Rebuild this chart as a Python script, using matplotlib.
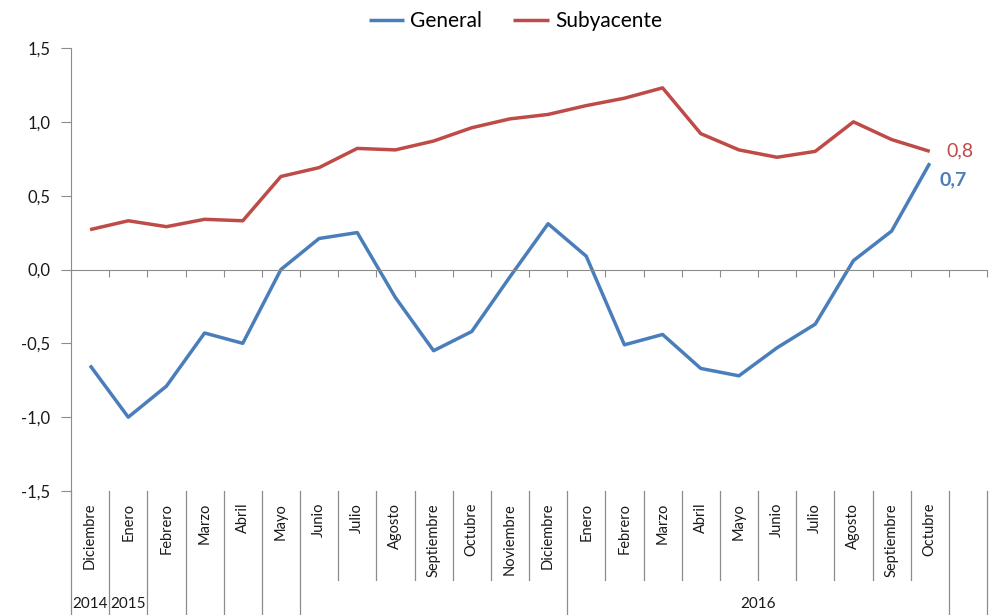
import matplotlib
matplotlib.use("Agg")
import matplotlib.pyplot as plt
from matplotlib.ticker import FuncFormatter, FixedLocator
from matplotlib.transforms import blended_transform_factory

BLUE = "#4A7EBB"
RED = "#BE4B48"
GRID = "#8C8C8C"
TEXT = "#1a1a1a"

plt.rcParams["font.family"] = ["Lato", "DejaVu Sans"]

months = ["Diciembre", "Enero", "Febrero", "Marzo", "Abril", "Mayo", "Junio",
          "Julio", "Agosto", "Septiembre", "Octubre", "Noviembre", "Diciembre",
          "Enero", "Febrero", "Marzo", "Abril", "Mayo", "Junio", "Julio",
          "Agosto", "Septiembre", "Octubre", ""]
years = [("2014", 0, 1), ("2015", 1, 2), ("2016", 13, 23)]
# category boundaries whose divider runs down through the year row
year_breaks = [0, 1, 2, 3, 4, 5, 6, 13, 23, 24]

general = [-0.65, -1.00, -0.79, -0.43, -0.50, 0.00, 0.21, 0.25, -0.19, -0.55,
           -0.42, -0.05, 0.31, 0.09, -0.51, -0.44, -0.67, -0.72, -0.53, -0.37,
           0.06, 0.26, 0.72]
subyacente = [0.27, 0.33, 0.29, 0.34, 0.33, 0.63, 0.69, 0.82, 0.81, 0.87,
              0.96, 1.02, 1.05, 1.11, 1.16, 1.23, 0.92, 0.81, 0.76, 0.80,
              1.00, 0.88, 0.80]

fig = plt.figure(figsize=(9.91, 6.15), dpi=100)
ax = fig.add_axes([71 / 991, 1 - 491 / 615, 916 / 991, 443 / 615])

x = [i + 0.5 for i in range(len(general))]
ax.plot(x, general, color=BLUE, linewidth=2.5, label="General",
        solid_capstyle="butt")
ax.plot(x, subyacente, color=RED, linewidth=2.5, label="Subyacente",
        solid_capstyle="butt")

ax.set_xlim(0, len(months))
ax.set_ylim(-1.5, 1.5)
ax.yaxis.set_major_locator(FixedLocator([-1.5, -1.0, -0.5, 0.0, 0.5, 1.0, 1.5]))
ax.yaxis.set_major_formatter(FuncFormatter(lambda v, p: f"{v:.1f}".replace(".", ",")))
ax.tick_params(axis="y", direction="out", length=7, color=GRID, labelsize=12,
               labelcolor=TEXT, pad=8)

# category axis sits at zero, labels are drawn low
for s in ("top", "right"):
    ax.spines[s].set_visible(False)
ax.spines["left"].set_color(GRID)
ax.spines["bottom"].set_position(("data", 0))
ax.spines["bottom"].set_color(GRID)
ax.set_xticks(range(len(months) + 1))
ax.tick_params(axis="x", direction="out", length=5, color=GRID, labelbottom=False)

tr = blended_transform_factory(ax.transData, ax.transAxes)
for k in range(len(months) + 1):
    low = -0.28 if k in year_breaks else -0.201
    ax.plot([k, k], [0, low], transform=tr, color=GRID, linewidth=0.9,
            clip_on=False)
for i, m in enumerate(months):
    ax.text(i + 0.5, -0.027, m, transform=tr, rotation=90, ha="center",
            va="top", fontsize=10.5, color=TEXT)
for label, a, b in years:
    ax.text((a + b) / 2, -0.255, label, transform=tr, ha="center",
            va="center", fontsize=11, color=TEXT)

ax.annotate("0,8", (x[-1], subyacente[-1]),
            xytext=(12, 0), textcoords="offset points", color=RED,
            fontsize=14, va="center", ha="left")
ax.annotate("0,7", (x[-1], general[-1]), xytext=(7, -12),
            textcoords="offset points", color=BLUE, fontsize=14,
            fontweight="bold", va="center", ha="left")

leg = fig.legend(loc="upper center", bbox_to_anchor=(0.52, 1.012), ncol=2,
                 frameon=False, fontsize=15, handlelength=1.7,
                 handletextpad=0.3, columnspacing=1.5)

fig.savefig("out.png", dpi=100)
